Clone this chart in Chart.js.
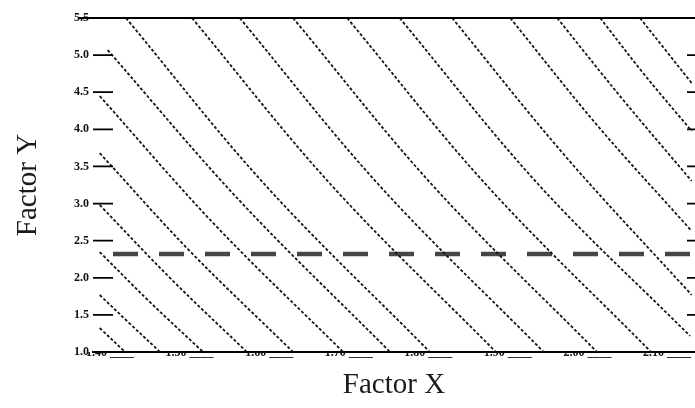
<!DOCTYPE html>
<html>
<head>
<meta charset="utf-8">
<script src="https://cdn.jsdelivr.net/npm/chart.js@4.4.1/dist/chart.umd.min.js"></script>
<style>
  html, body { margin: 0; padding: 0; background: #ffffff; }
  #wrap { width: 695px; height: 408px; }
</style>
</head>
<body>
<div id="wrap"><canvas id="c" width="695" height="408"></canvas></div>
<script>
// ---- data ----
const xTickValues = [1.40, 1.50, 1.60, 1.70, 1.80, 1.90, 2.00, 2.10];
const xTickLabels = ["1.40 ____", "1.50 ____", "1.60 ____", "1.70 ____", "1.80 ____", "1.90 ____", "2.00 ____", "2.10 ____"];
const yTickValues = [1.0, 1.5, 2.0, 2.5, 3.0, 3.5, 4.0, 4.5, 5.0, 5.5];
const yTickLabels = ["1.0", "1.5", "2.0", "2.5", "3.0", "3.5", "4.0", "4.5", "5.0", "5.5"];
const xRange = [1.3786, 2.1352];
const yRange = [1.0, 5.5];

// iso-lines, each a short list of [x, y] points
const line01 = [[1.420, 5.500], [1.595, 3.250], [1.802, 1.000]];
const line02 = [[1.503, 5.500], [1.678, 3.250], [1.885, 1.000]];
const line03 = [[1.563, 5.500], [1.738, 3.250], [1.945, 1.000]];
const line04 = [[1.630, 5.500], [1.805, 3.250], [2.012, 1.000]];
const line05 = [[1.698, 5.500], [1.873, 3.250], [2.080, 1.000]];
const line06 = [[1.764, 5.500], [1.939, 3.250], [2.129, 1.216]];
const line07 = [[1.830, 5.500], [1.972, 3.641], [2.131, 1.768]];
const line08 = [[1.903, 5.500], [2.012, 4.058], [2.131, 2.630]];
const line09 = [[1.962, 5.500], [2.045, 4.395], [2.131, 3.304]];
const line10 = [[2.016, 5.500], [2.072, 4.732], [2.131, 3.978]];
const line11 = [[2.066, 5.500], [2.098, 5.069], [2.131, 4.624]];
const line12 = [[1.397, 5.069], [1.562, 3.048], [1.752, 1.000]];
const line13 = [[1.387, 4.449], [1.532, 2.711], [1.693, 1.000]];
const line14 = [[1.387, 3.681], [1.499, 2.374], [1.630, 1.000]];
const line15 = [[1.387, 2.981], [1.478, 1.970], [1.572, 1.000]];
const line16 = [[1.387, 2.347], [1.450, 1.674], [1.517, 1.000]];
const line17 = [[1.387, 1.768], [1.424, 1.391], [1.463, 1.000]];
const line18 = [[1.387, 1.323], [1.419, 1.000]];
const isoLines = [line01, line02, line03, line04, line05, line06, line07, line08, line09,
                  line10, line11, line12, line13, line14, line15, line16, line17, line18];

const refLevel = 2.32;   // thick dashed horizontal line

// ---- chart ----
const datasets = isoLines.map(pts => ({
  data: pts.map(p => ({ x: p[0], y: p[1] })),
  showLine: true,
  borderColor: '#151515',
  borderWidth: 1.8,
  borderDash: [3, 2],
  pointRadius: 0,
  tension: 0.35,
  fill: false
}));
datasets.push({
  data: [{ x: xRange[0], y: refLevel }, { x: xRange[1], y: refLevel }],
  showLine: true,
  borderColor: '#454545',
  borderWidth: 4.5,
  borderDash: [25, 21],
  borderDashOffset: 26,
  pointRadius: 0,
  fill: false
});

const frame = {
  id: 'frame',
  afterDatasetsDraw(chart) {
    const { ctx, chartArea: a, scales } = chart;
    ctx.save();
    ctx.strokeStyle = '#000';
    ctx.lineWidth = 2;
    ctx.beginPath();
    ctx.moveTo(a.left - 14, a.top);
    ctx.lineTo(a.right, a.top);
    ctx.stroke();
    ctx.lineWidth = 1.8;
    scales.y.ticks.forEach(t => {
      const py = scales.y.getPixelForValue(t.value);
      if (Math.abs(py - a.top) < 1 || Math.abs(py - a.bottom) < 1) return;
      ctx.beginPath();
      ctx.moveTo(a.left, py); ctx.lineTo(a.left + 20, py);
      ctx.moveTo(a.right - 8, py); ctx.lineTo(a.right, py);
      ctx.stroke();
    });
    ctx.restore();
  }
};

new Chart(document.getElementById('c'), {
  type: 'scatter',
  data: { datasets },
  options: {
    responsive: false,
    animation: false,
    layout: { padding: { top: 18, right: 0, bottom: 0, left: 0 } },
    plugins: { legend: { display: false }, tooltip: { enabled: false } },
    scales: {
      x: {
        type: 'linear',
        min: xRange[0], max: xRange[1],
        afterBuildTicks: s => { s.ticks = xTickValues.map(v => ({ value: v })); },
        afterFit: s => { s.height = 56; },
        grid: { display: false, drawTicks: false },
        border: { display: true, color: '#000', width: 2 },
        ticks: {
          padding: -6,
          color: '#111',
          font: { family: 'Liberation Serif', size: 12, weight: 'bold' },
          maxRotation: 0, autoSkip: false,
          callback: (v, i) => xTickLabels[i]
        },
        title: {
          display: true, text: 'Factor X', color: '#1a1a1a',
          font: { family: 'Liberation Serif', size: 29 },
          padding: { top: 0, bottom: 5 }
        }
      },
      y: {
        type: 'linear',
        min: yRange[0], max: yRange[1],
        afterBuildTicks: s => { s.ticks = yTickValues.map(v => ({ value: v })); },
        afterFit: s => { s.width = 93; },
        grid: { display: false, drawTicks: false },
        border: { display: false },
        ticks: {
          padding: 4,
          color: '#111',
          font: { family: 'Liberation Serif', size: 12, weight: 'bold' },
          autoSkip: false,
          callback: (v, i) => yTickLabels[i]
        },
        title: {
          display: true, text: 'Factor Y', color: '#1a1a1a',
          font: { family: 'Liberation Serif', size: 29 },
          padding: { top: 11, bottom: 0 }
        }
      }
    }
  },
  plugins: [frame]
});
</script>
</body>
</html>
